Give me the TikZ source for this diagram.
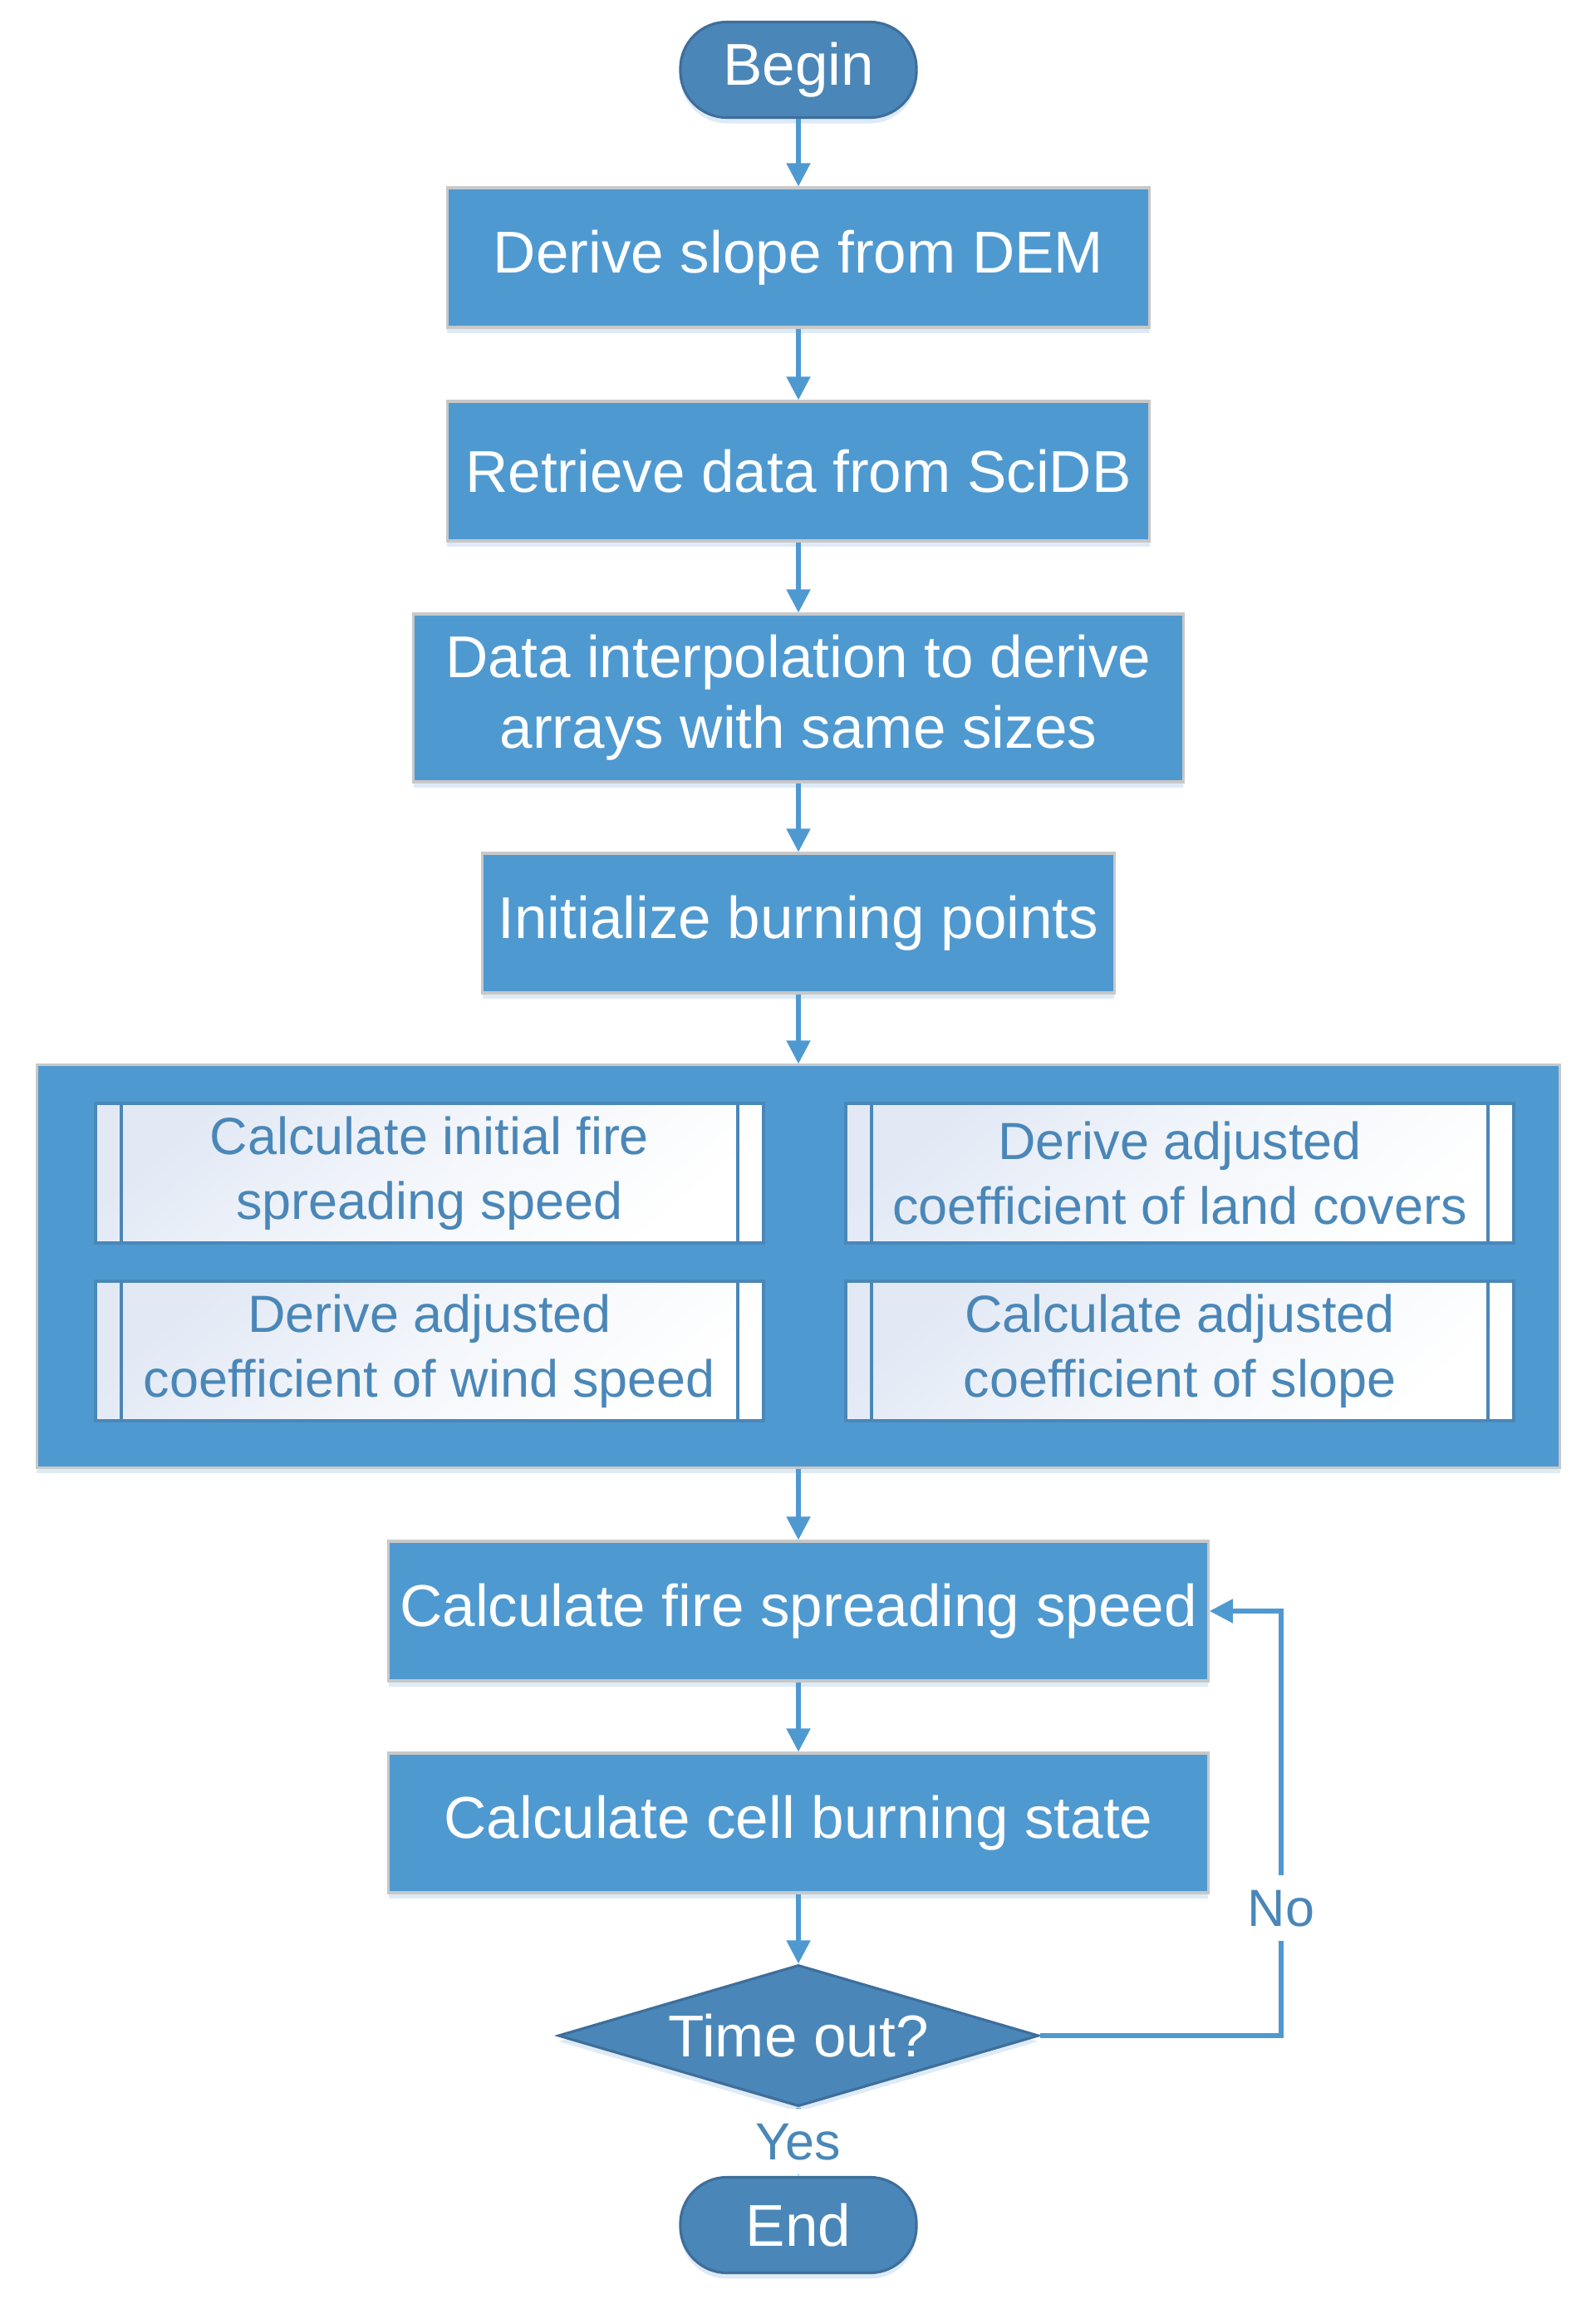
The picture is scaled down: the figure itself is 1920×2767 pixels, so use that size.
\documentclass[tikz,border=0pt]{standalone}
\usepackage{fontspec}
\setmainfont{Liberation Sans}
\usetikzlibrary{shapes.geometric}
\usetikzlibrary{arrows.meta}
\usetikzlibrary{shadows}
\definecolor{boxblue}{RGB}{79,153,209}
\definecolor{termblue}{RGB}{74,135,184}
\definecolor{termline}{RGB}{62,110,155}
\definecolor{boxline}{RGB}{200,200,200}
\definecolor{subfill}{RGB}{226,233,245}
\definecolor{shadeblue}{RGB}{208,226,243}
\newcommand{\mainsize}{\fontsize{20.2pt}{24.2pt}\selectfont}
\newcommand{\subsize}{\fontsize{17.9pt}{22.2pt}\selectfont}

\tikzset{
  softshadow/.style={drop shadow={shadow xshift=0pt,shadow yshift=-0.07cm,fill=shadeblue,opacity=0.7}},
  procbox/.style={rectangle,fill=boxblue,draw=boxline,line width=0.9pt,text=white,
    font=\mainsize,align=center,minimum height=1.68cm,inner sep=0pt,softshadow},
  termbox/.style={rectangle,rounded corners=0.56cm,fill=termblue,draw=termline,line width=0.9pt,
    text=white,font=\mainsize,minimum width=2.84cm,minimum height=1.15cm,inner sep=0pt,softshadow},
  subbox/.style={rectangle,draw=termblue,line width=1.2pt,left color=subfill,right color=white,
    middle color=white!60!subfill,shading angle=40,
    text=termblue,font=\subsize,align=center,minimum width=8.04cm,minimum height=1.68cm,inner sep=0pt},
  flow/.style={-{Triangle[length=0.28cm,width=0.28cm]},boxblue,line width=1.45pt},
  answer/.style={font=\subsize,text=termblue,fill=white,inner xsep=2pt,inner ysep=5pt}
}

\begin{document}
\begin{tikzpicture}[x=0.01cm,y=-0.01cm]
\useasboundingbox (0,0) rectangle (1920,2767);

\node[termbox] (start) at (961,84) {Begin};
\node[procbox,minimum width=8.45cm] (slope) at (961,310) {Derive slope from DEM};
\node[procbox,minimum width=8.45cm] (scidb) at (961,567) {Retrieve data from SciDB};
\node[procbox,minimum width=9.26cm,minimum height=2.02cm] (interp) at (961,840) {Data interpolation to derive\\arrays with same sizes};
\node[procbox,minimum width=7.60cm] (init) at (961,1111) {Initialize burning points};

% parallel sub-processes
\node[procbox,minimum width=18.32cm,minimum height=4.84cm] (group) at (961,1524) {};
\node[subbox] (initspeed) at (517,1412) {Calculate initial fire\\spreading speed};
\node[subbox] (landcoef) at (1420,1412) {Derive adjusted\\coefficient of land covers};
\node[subbox] (windcoef) at (517,1626) {Derive adjusted\\coefficient of wind speed};
\node[subbox] (slopecoef) at (1420,1626) {Calculate adjusted\\coefficient of slope};
\foreach \s in {initspeed,landcoef,windcoef,slopecoef}{
  \draw[termblue,line width=1.1pt] ([xshift=0.33cm]\s.north west) -- ([xshift=0.33cm]\s.south west);
  \draw[termblue,line width=1.1pt] ([xshift=-0.33cm]\s.north east) -- ([xshift=-0.33cm]\s.south east);
}

\node[procbox,minimum width=9.86cm] (speed) at (961,1939) {Calculate fire spreading speed};
\node[procbox,minimum width=9.86cm] (state) at (961,2194) {Calculate cell burning state};
\node[diamond,fill=termblue,draw=termline,line width=0.9pt,text=white,font=\mainsize,
  aspect=3.4,minimum width=5.78cm,minimum height=1.70cm,inner sep=0pt,softshadow] (timeout) at (961,2450) {Time out?};
\node[termbox] (stop) at (961,2678) {End};
\coordinate (noturn) at (1542,1939);

\draw[flow] (start) -- (slope);
\draw[flow] (slope) -- (scidb);
\draw[flow] (scidb) -- (interp);
\draw[flow] (interp) -- (init);
\draw[flow] (init) -- (group);
\draw[flow] (group) -- (speed);
\draw[flow] (speed) -- (state);
\draw[flow] (state) -- (timeout);
\draw[flow] (timeout) -- node[midway,answer] {Yes} (stop);
\draw[flow] (timeout.east) -| node[pos=0.65,answer] {No} (noturn) -- (speed.east);

\end{tikzpicture}
\end{document}
